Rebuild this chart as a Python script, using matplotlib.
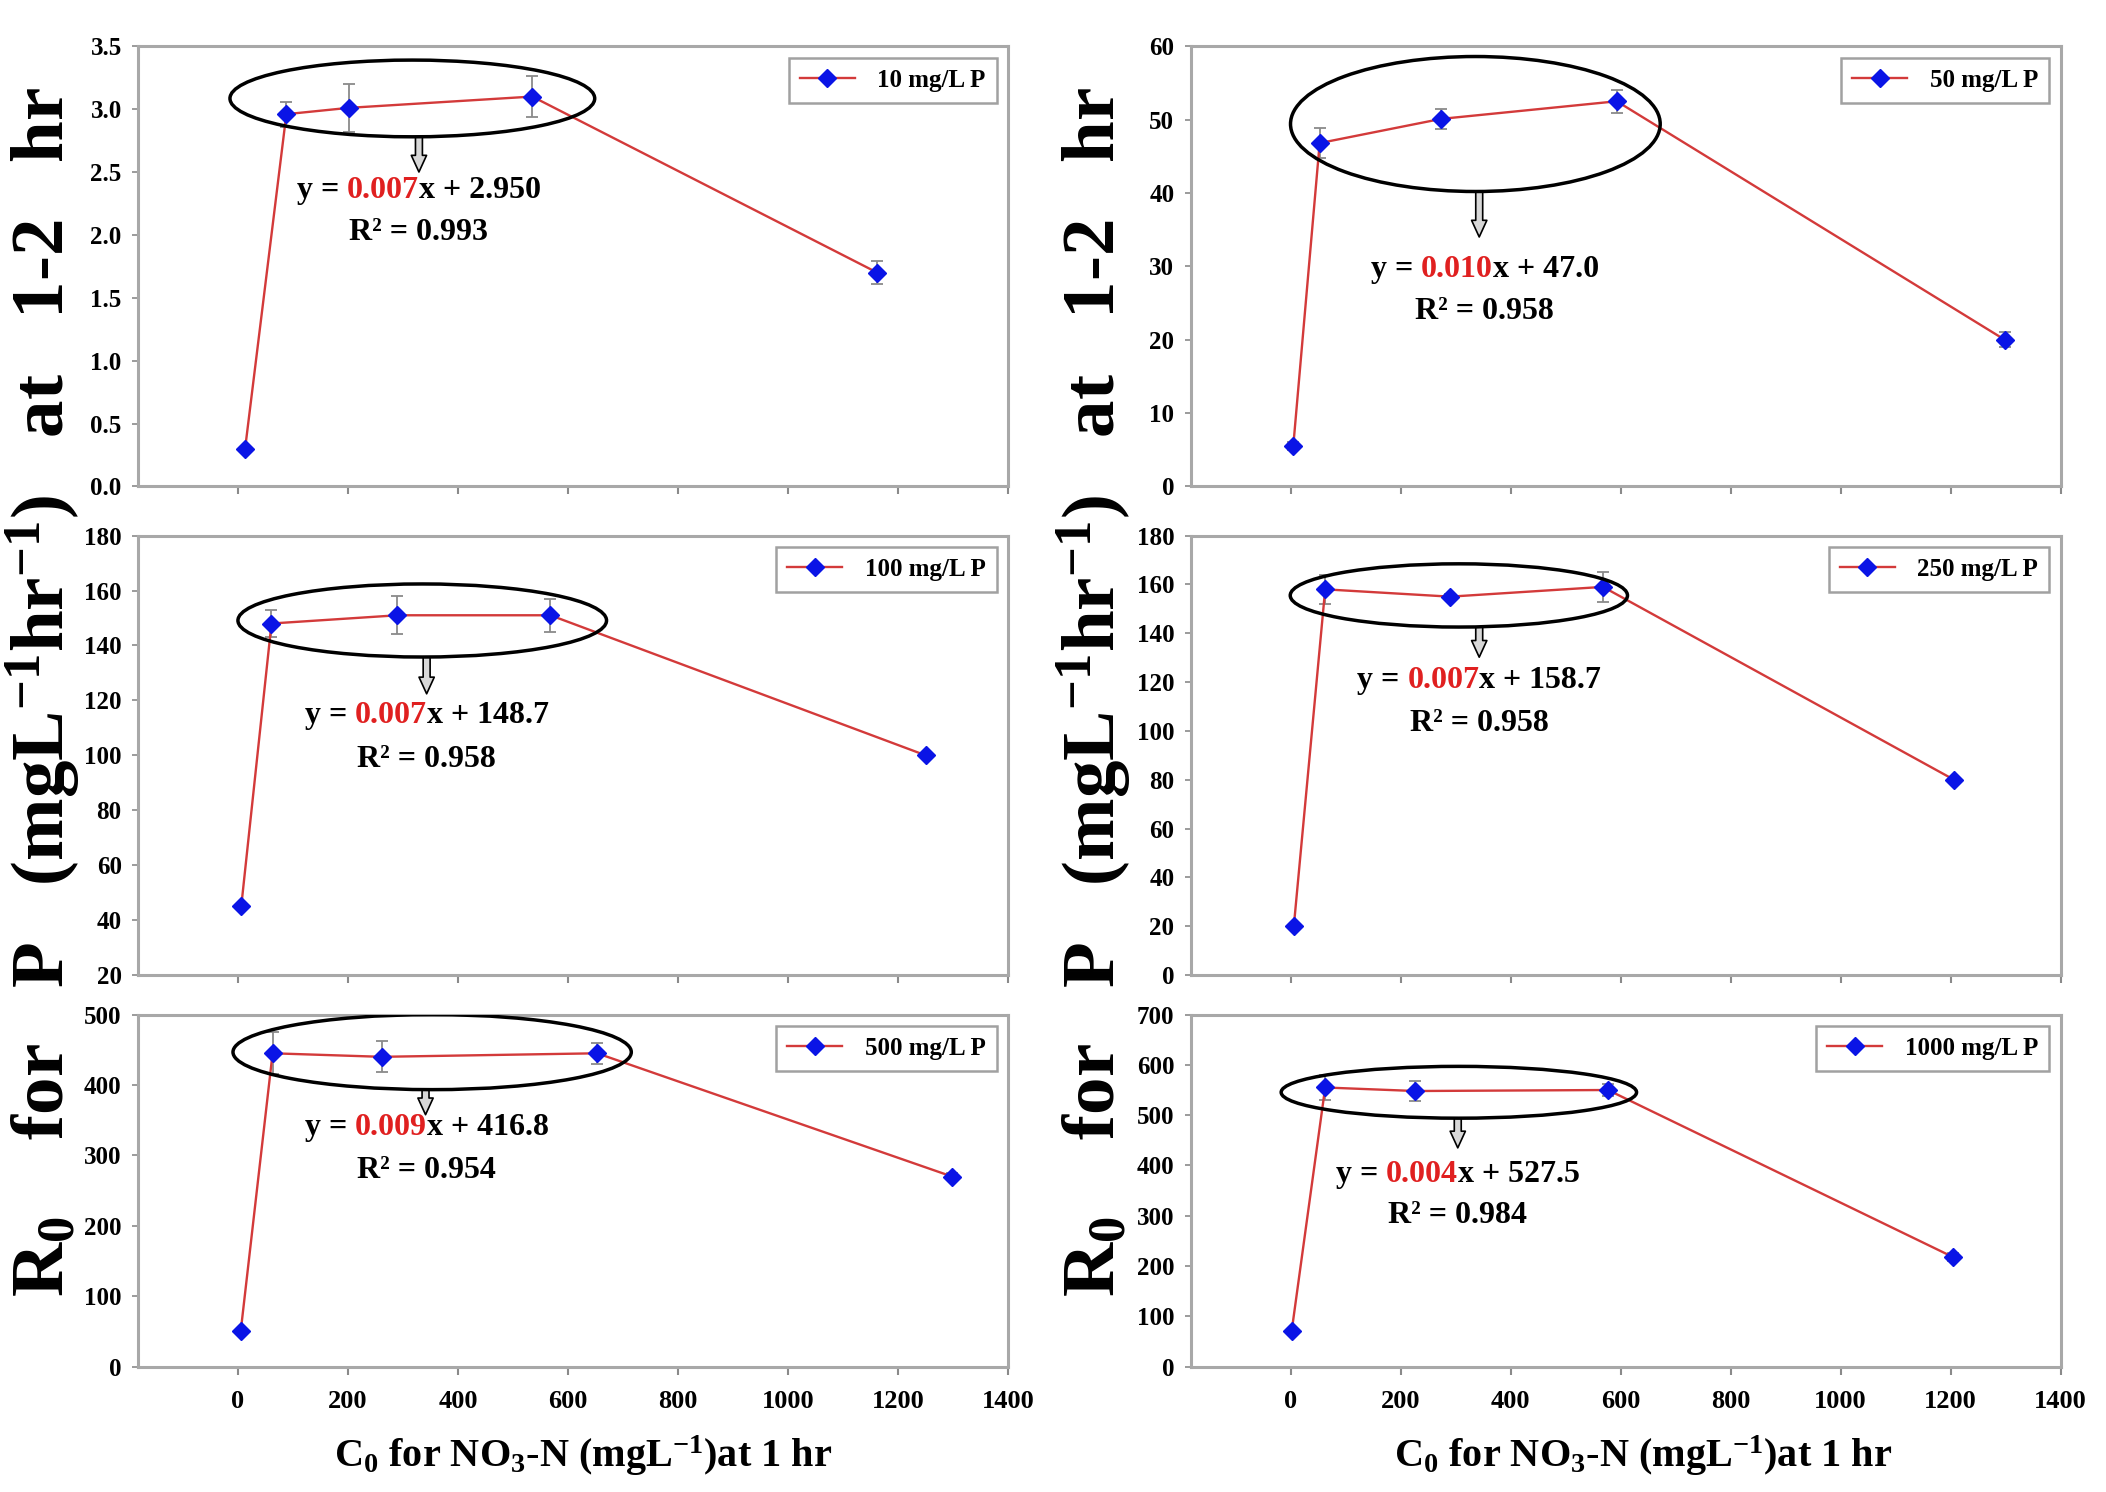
import matplotlib
matplotlib.use("Agg")
import matplotlib.pyplot as plt
from matplotlib.patches import Ellipse
from matplotlib.offsetbox import TextArea, HPacker, AnnotationBbox

plt.rcParams["font.family"] = ["Liberation Serif", "DejaVu Serif"]
plt.rcParams["font.weight"] = "bold"
plt.rcParams["mathtext.fontset"] = "custom"
plt.rcParams["mathtext.rm"] = "Liberation Serif:bold"
plt.rcParams["mathtext.it"] = "Liberation Serif:bold"
plt.rcParams["mathtext.bf"] = "Liberation Serif:bold"

# data (x = C0 NO3-N, y = Ro for P, err = error bar)
labels = ["10 mg/L P", "50 mg/L P", "100 mg/L P", "250 mg/L P", "500 mg/L P", "1000 mg/L P"]

x_10 = [13, 88, 201, 535, 1162]
y_10 = [0.30, 2.96, 3.01, 3.10, 1.70]
e_10 = [0.0, 0.10, 0.19, 0.16, 0.09]

x_50 = [5, 53, 274, 593, 1298]
y_50 = [5.5, 46.8, 50.1, 52.5, 20.0]
e_50 = [0.5, 2.0, 1.4, 1.6, 1.0]

x_100 = [6, 61, 290, 568, 1250]
y_100 = [45, 148, 151, 151, 100]
e_100 = [0, 5, 7, 6, 1]

x_250 = [6, 63, 290, 568, 1206]
y_250 = [20, 158, 155, 159, 80]
e_250 = [0, 6, 1, 6, 1]

x_500 = [5, 63, 261, 653, 1298]
y_500 = [50, 445, 440, 445, 270]
e_500 = [0, 30, 22, 15, 5]

x_1000 = [2, 63, 227, 577, 1204]
y_1000 = [70, 555, 548, 550, 218]
e_1000 = [0, 25, 20, 12, 8]

slopes = ["0.007", "0.010", "0.007", "0.007", "0.009", "0.004"]
intercepts = ["2.950", "47.0", "148.7", "158.7", "416.8", "527.5"]
r2 = ["0.993", "0.958", "0.958", "0.958", "0.954", "0.984"]

ylims = [(0, 3.5), (0, 60), (20, 180), (0, 180), (0, 500), (0, 700)]
ysteps = [0.5, 10, 20, 20, 100, 100]
yfmt = ["{:.1f}", "{:.0f}", "{:.0f}", "{:.0f}", "{:.0f}", "{:.0f}"]
xticks = [0, 200, 400, 600, 800, 1000, 1200, 1400]

# annotation placement: ellipse (cx, cy, w, h), arrow (x, y0, y1), text (x, y1, y2)
ellipses = [(317, 3.085, 663, 0.61), (336, 49.4, 672, 18.4), (335, 149.1, 670, 26.6),
            (306, 155.5, 613, 25.9), (353, 446.7, 724, 106.6), (306, 545.5, 646, 103)]
arrows = [(329, 2.78, 2.50), (343, 40.2, 34.0), (343, 135.8, 122.4),
          (343, 142.5, 130.2), (341, 393.4, 357.8), (304, 494, 435)]
texts = [(329, 2.35, 2.02), (353, 29.5, 23.8), (343, 114.5, 98.6),
         (343, 120.7, 103), (343, 340, 278), (304, 382, 300)]

series = [(x_10, y_10, e_10), (x_50, y_50, e_50), (x_100, y_100, e_100),
          (x_250, y_250, e_250), (x_500, y_500, e_500), (x_1000, y_1000, e_1000)]

fig = plt.figure(figsize=(21.06, 14.92), dpi=100)

col_left = [0.0657, 0.5655]
col_w = 0.413
rows = [(0.674, 0.295), (0.3465, 0.2945), (0.084, 0.236)]

spine_col = "#a8a8a8"

for i, (xs, ys, es) in enumerate(series):
    col = i % 2
    row = i // 2
    ax = fig.add_axes([col_left[col], rows[row][0], col_w, rows[row][1]])

    ax.errorbar(xs, ys, yerr=es, fmt="none", ecolor="#8a8a8a",
                elinewidth=1.3, capsize=4, capthick=1.3, zorder=2)
    ax.plot(xs, ys, color="#d33a3a", lw=1.7, marker="D", ms=9,
            mfc="#0a14e6", mec="#0a14e6", label=labels[i], zorder=3)

    ax.set_xlim(-181, 1400)
    ax.set_ylim(*ylims[i])
    lo, hi = ylims[i]
    n = int(round((hi - lo) / ysteps[i]))
    yt = [lo + k * ysteps[i] for k in range(n + 1)]
    ax.set_yticks(yt)
    ax.set_yticklabels([yfmt[i].format(v) for v in yt], fontsize=18, fontweight="bold")
    ax.set_xticks(xticks)
    if row == 2:
        ax.set_xticklabels([str(v) for v in xticks], fontsize=19, fontweight="bold")
        ax.tick_params(axis="x", pad=11)
    else:
        ax.set_xticklabels([])

    ax.tick_params(axis="x", direction="out", length=6, width=1.5, color="#8a8a8a")
    ax.tick_params(axis="y", direction="out", length=4, width=1.2, color="#8a8a8a", pad=8)
    for s in ax.spines.values():
        s.set_color(spine_col)
        s.set_linewidth(2.2)

    leg = ax.legend(loc="upper right", fontsize=18, frameon=True, fancybox=False,
                    handlelength=2.2, borderpad=0.45, borderaxespad=0.45,
                    handletextpad=0.9)
    leg.get_frame().set_edgecolor("#8a8a8a")
    leg.get_frame().set_linewidth(1.8)

    cx, cy, w, h = ellipses[i]
    ax.add_patch(Ellipse((cx, cy), w, h, fill=False, ec="black", lw=2.5, zorder=4))

    ax_x, a0, a1 = arrows[i]
    ax.annotate("", xy=(ax_x, a1), xytext=(ax_x, a0),
                arrowprops=dict(arrowstyle="simple,head_length=0.6,head_width=0.55,tail_width=0.25",
                                fc="#d8d8d8", ec="black", lw=1.2, mutation_scale=20,
                                shrinkA=0, shrinkB=0))

    tx, t1, t2 = texts[i]
    parts = [TextArea("y = ", textprops=dict(color="black", fontsize=23, fontweight="bold")),
             TextArea(slopes[i], textprops=dict(color="#e02020", fontsize=23, fontweight="bold")),
             TextArea("x + " + intercepts[i], textprops=dict(color="black", fontsize=23, fontweight="bold"))]
    box = HPacker(children=parts, align="baseline", pad=0, sep=0)
    ax.add_artist(AnnotationBbox(box, (tx, t1), frameon=False, box_alignment=(0.5, 0.5)))
    ax.text(tx, t2, "R² = " + r2[i], ha="center", va="center", fontsize=23, fontweight="bold")

ylabel = r"R$_0$    for   P   (mgL$^{-1}$hr$^{-1}$)   at   1-2   hr"
fig.text(0.0205, 0.536, ylabel, rotation=90, ha="center", va="center", fontsize=54, fontweight="bold")
fig.text(0.5195, 0.536, ylabel, rotation=90, ha="center", va="center", fontsize=54, fontweight="bold")

xlabel = r"C$_0$ for NO$_3$-N (mgL$^{-1}$)at 1 hr"
fig.text(0.277, 0.024, xlabel, ha="center", va="center", fontsize=29, fontweight="bold")
fig.text(0.780, 0.024, xlabel, ha="center", va="center", fontsize=29, fontweight="bold")

fig.savefig("out.png", dpi=100)
plt.close(fig)
